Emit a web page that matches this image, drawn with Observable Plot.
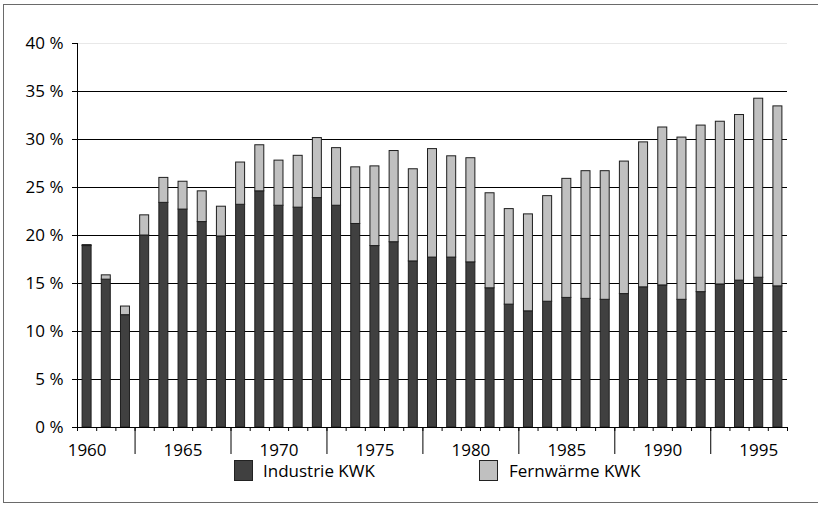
<!DOCTYPE html>
<html>
<head>
<meta charset="utf-8">
<script src="https://cdn.jsdelivr.net/npm/d3@7"></script>
<script src="https://cdn.jsdelivr.net/npm/@observablehq/plot@0.6"></script>
<style>
  html, body { margin: 0; padding: 0; background: #fff; overflow: hidden; }
  #wrap { position: relative; width: 818px; height: 505px; overflow: hidden; font-family: "Open Sans", sans-serif; }
  #frame { position: absolute; left: 3px; top: 4px; width: 840px; height: 499px; border: 1.6px solid #6a6a6a; box-sizing: border-box; }
  #chart { position: absolute; left: 0; top: 0; }
  .sw { position: absolute; top: 460px; width: 19px; height: 21px; box-sizing: border-box; border: 1px solid #222; }
  .lt { position: absolute; top: 462px; font-size: 17px; line-height: 1; color: #000; white-space: nowrap; }
</style>
</head>
<body>
<div id="wrap">
  <div id="frame"></div>
  <div id="chart"></div>
  <div id="legend"></div>
</div>
<script>
// Data, percent
const years = [1960,1961,1962,1963,1964,1965,1966,1967,1968,1969,1970,1971,1972,1973,1974,1975,1976,1977,1978,1979,1980,1981,1982,1983,1984,1985,1986,1987,1988,1989,1990,1991,1992,1993,1994,1995,1996];
const industrie = [18.9,15.4,11.7,20.0,23.4,22.7,21.4,19.9,23.2,24.6,23.1,22.9,23.9,23.1,21.2,18.9,19.3,17.3,17.7,17.7,17.2,14.5,12.8,12.1,13.1,13.5,13.4,13.3,13.9,14.6,14.8,13.3,14.1,14.9,15.3,15.6,14.7];
const fernwaerme = [0.1,0.45,0.9,2.1,2.6,2.9,3.2,3.1,4.4,4.8,4.7,5.4,6.25,6.0,5.9,8.3,9.5,9.6,11.3,10.55,10.85,9.9,9.95,10.1,11.0,12.4,13.3,13.4,13.8,15.1,16.45,16.9,17.35,16.95,17.25,18.65,18.75];
const seriesNames = ["Industrie KWK", "Fernwärme KWK"];
const seriesColors = ["#404040", "#c0c0c0"];
const yTicks = [0,5,10,15,20,25,30,35,40];
const xLabelYears = [1960,1965,1970,1975,1980,1985,1990,1995];
const xMinorTicks = [1959.5,1960.5,1961.5,1962.5,1963.5,1964.5,1965.5,1966.5,1967.5,1968.5,1969.5,1970.5,1971.5,1972.5,1973.5,1974.5,1975.5,1976.5,1977.5,1978.5,1979.5,1980.5,1981.5,1982.5,1983.5,1984.5,1985.5,1986.5,1987.5,1988.5,1989.5,1990.5,1991.5,1992.5,1993.5,1994.5,1995.5,1996.5];
const xGroupTicks = [1962.5,1967.5,1972.5,1977.5,1982.5,1987.5,1992.5];

const rows = [];
years.forEach((yr, i) => {
  rows.push({year: yr, series: seriesNames[0], value: industrie[i]});
  rows.push({year: yr, series: seriesNames[1], value: fernwaerme[i]});
});
const xDomain = [years[0] - 0.5, years[years.length - 1] + 0.5];

const chart = Plot.plot({
  width: 818,
  height: 505,
  marginLeft: 77,
  marginRight: 31,
  marginTop: 43,
  marginBottom: 78,
  style: {fontFamily: "'Open Sans', sans-serif", fontSize: "17px", color: "#000", background: "transparent", overflow: "visible"},
  x: {domain: xDomain},
  y: {domain: [0, 40]},
  color: {domain: seriesNames, range: seriesColors},
  marks: [
    Plot.ruleY([40], {stroke: "#e8e8e8", strokeWidth: 1}),
    Plot.ruleY(yTicks.filter(v => v > 0 && v < 40), {stroke: "#000", strokeWidth: 1}),
    Plot.rectY(rows, Plot.stackY({
      x1: d => d.year - 0.5,
      x2: d => d.year + 0.5,
      y: "value",
      fill: "series",
      stroke: "#1e1e1e",
      strokeWidth: 1,
      insetLeft: 5.1,
      insetRight: 5.1
    })),
    Plot.ruleY([0], {stroke: "#000", strokeWidth: 1}),
    Plot.ruleX([xDomain[0]], {stroke: "#000", strokeWidth: 1}),
    Plot.axisY({ticks: yTicks, tickSize: 5, tickPadding: 9, tickFormat: d => `${d} %`, label: null, fontSize: 17}),
    Plot.axisX({ticks: xMinorTicks, tickSize: 4, tickFormat: () => "", label: null}),
    Plot.axisX({ticks: xGroupTicks, tickSize: 27, tickFormat: () => "", label: null}),
    Plot.axisX({ticks: xLabelYears, tickSize: 0, tickPadding: 16, tickFormat: d => String(d), label: null, fontSize: 17})
  ]
});
document.getElementById("chart").appendChild(chart);

// Legend
const legend = document.getElementById("legend");
const legendPos = [{sw: 234, tx: 263}, {sw: 479, tx: 509}];
seriesNames.forEach((name, i) => {
  const sw = document.createElement("div");
  sw.className = "sw";
  sw.style.left = legendPos[i].sw + "px";
  sw.style.background = seriesColors[i];
  legend.appendChild(sw);
  const t = document.createElement("div");
  t.className = "lt";
  t.style.left = legendPos[i].tx + "px";
  t.textContent = name;
  legend.appendChild(t);
});
</script>
</body>
</html>
